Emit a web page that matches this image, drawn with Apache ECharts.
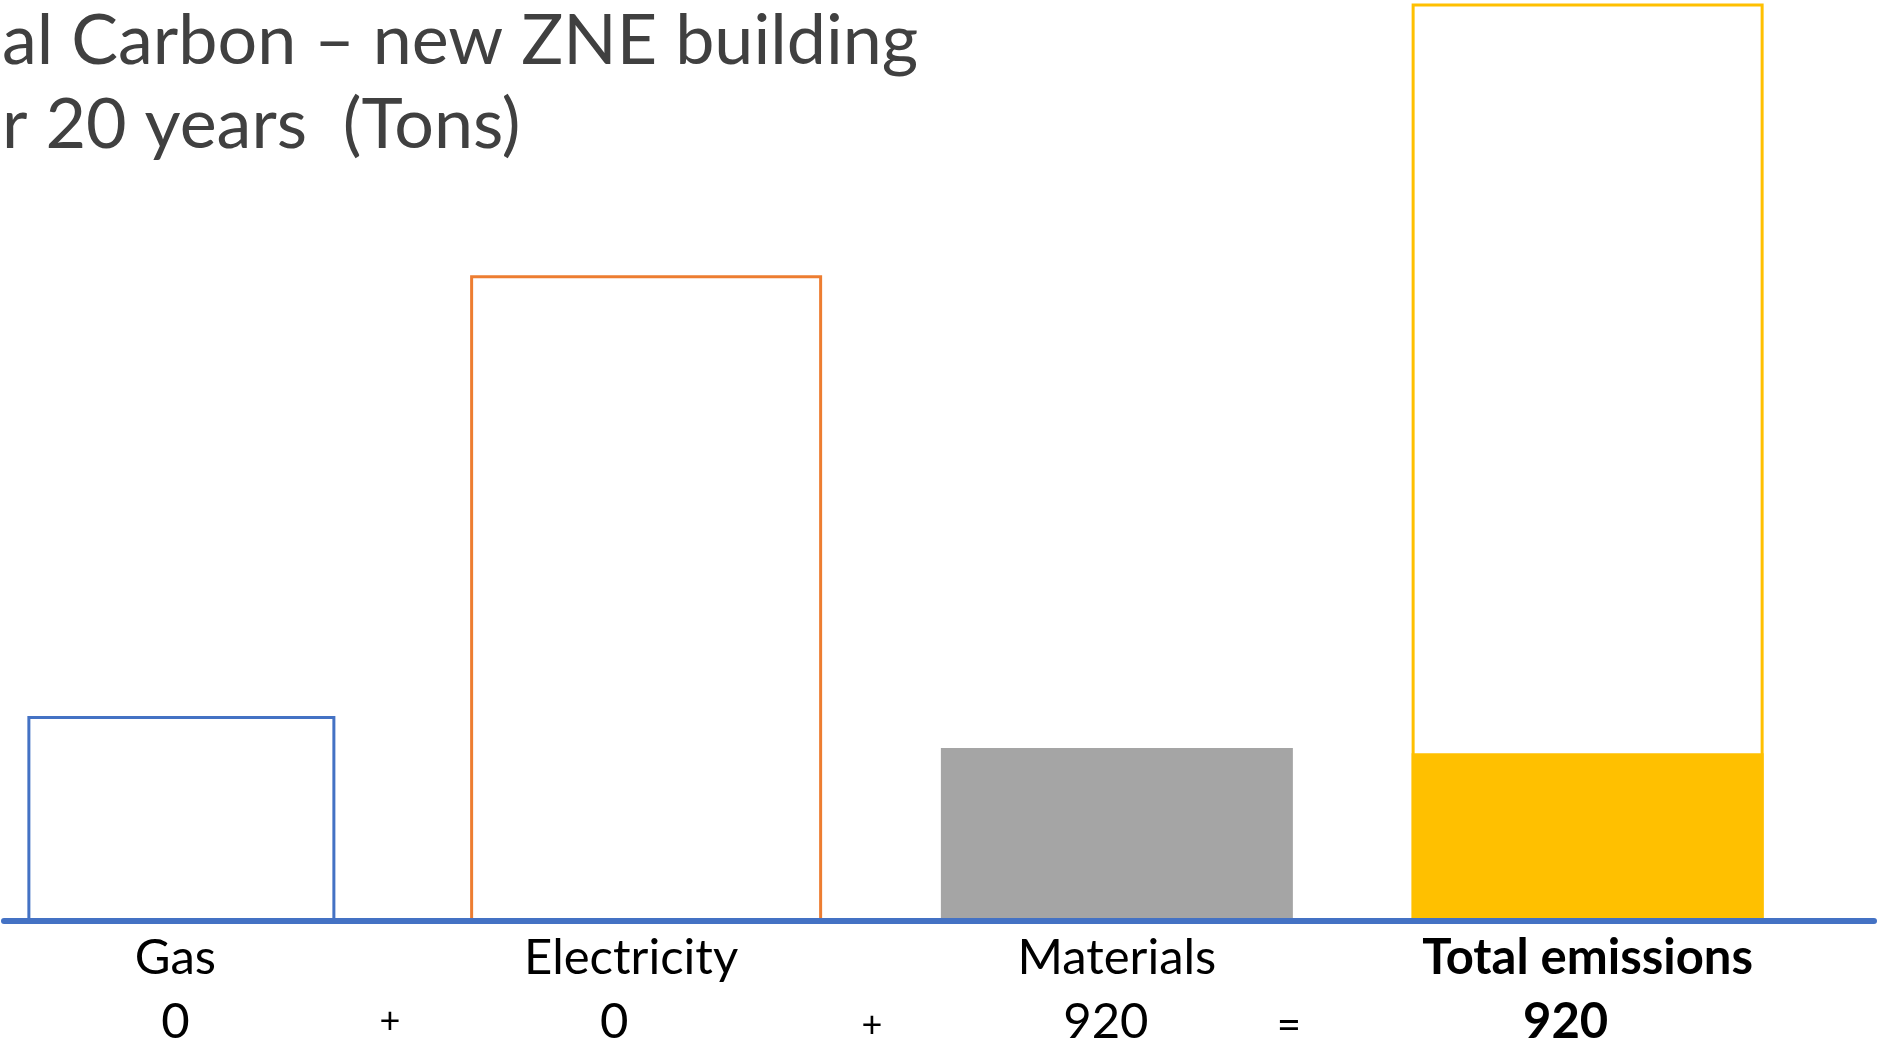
<!DOCTYPE html>
<html>
<head>
<meta charset="utf-8">
<title>Carbon – new ZNE building</title>
<script src="https://cdn.jsdelivr.net/npm/echarts@6/dist/echarts.min.js"></script>
<style>
  html, body { margin: 0; padding: 0; background: #fff; }
  #main { width: 1880px; height: 1053px; }
</style>
</head>
<body>
<div id="main"></div>
<script>
// categories + values
const categories = ['Gas', 'Electricity', 'Materials', 'Total emissions'];
// numbers written under each bar
const labelValues = [0, 0, 920, 920];
// hollow bars (reference building, tons)
const gasOutline = [1090, null, null, null];
const outlineValues = [null, 3435, null, 4882];
// filled bars (new ZNE building)
const filledValues = [0, 0, 920, 893];
// signs between the numbers
const operators = ['+', '+', '='];

const outlineColors = ['#4472C4', '#ED7D31', null, '#FFC000'];
const fillColors = ['#A5A5A5', '#A5A5A5', '#A5A5A5', '#FFC000'];
const FONT = 'Lato, "Open Sans", sans-serif';
// the text boxes on the slide aren't exactly centred under the bars
const namePad = [0, 30, 0, 0];
const valPad = [0, 64, 22, 44];

const chart = echarts.init(document.getElementById('main'));

const rich = {};
categories.forEach((c, i) => {
  const bold = i === 3 ? 'bold' : 'normal';
  rich['n' + i] = { fontFamily: FONT, fontSize: 49, lineHeight: 64, fontWeight: bold, color: '#000', padding: [0, namePad[i], 0, 0] };
  rich['v' + i] = { fontFamily: FONT, fontSize: 49, lineHeight: 64, fontWeight: bold, color: '#000', padding: [0, valPad[i], 0, 0] };
});

chart.setOption({
  animation: false,
  title: {
    text: 'al Carbon – new ZNE building\nr 20 years  (Tons)',
    left: -3,
    top: -6,
    textStyle: {
      fontFamily: FONT,
      fontSize: 70,
      fontWeight: 'normal',
      lineHeight: 84,
      color: '#404040'
    }
  },
  grid: [
    // bars (slide layout starts a bit left of the canvas)
    { left: -60, right: 57, top: 0, bottom: 132, outerBoundsMode: 'none' },
    // blue base line only
    { left: 4, right: 6, top: 0, bottom: 132, outerBoundsMode: 'none' },
    // gas box sits a touch further right on the slide
    { left: -54, right: 51, top: 0, bottom: 132, outerBoundsMode: 'none' }
  ],
  xAxis: [
    {
      type: 'category',
      gridIndex: 0,
      data: categories,
      axisLine: { show: false },
      axisTick: { show: false },
      axisLabel: {
        margin: 5,
        interval: 0,
        formatter: function (v, i) {
          return '{n' + i + '|' + v + '}\n{v' + i + '|' + labelValues[i] + '}';
        },
        rich: rich
      }
    },
    {
      type: 'value',
      gridIndex: 1,
      z: 10,
      axisLine: { show: true, onZero: false, lineStyle: { color: '#4472C4', width: 6 } },
      axisTick: { show: false },
      axisLabel: { show: false },
      splitLine: { show: false }
    },
    // same categories, only so the gas box can be narrower
    { type: 'category', gridIndex: 2, data: categories, show: false }
  ],
  yAxis: [
    { type: 'value', gridIndex: 0, min: 0, max: 4900, show: false, splitLine: { show: false } },
    { type: 'value', gridIndex: 1, show: false, splitLine: { show: false } },
    { type: 'value', gridIndex: 2, min: 0, max: 4900, show: false, splitLine: { show: false } }
  ],
  series: [
    {
      name: 'ZNE',
      type: 'bar',
      xAxisIndex: 0,
      yAxisIndex: 0,
      barWidth: 352,
      barGap: '-100%',
      data: filledValues.map((v, i) => ({ value: v, itemStyle: { color: fillColors[i] } }))
    },
    {
      name: 'Reference',
      type: 'bar',
      xAxisIndex: 0,
      yAxisIndex: 0,
      barWidth: 352,
      barGap: '-100%',
      data: outlineValues.map((v, i) => ({
        value: v,
        itemStyle: { color: 'rgba(0,0,0,0)', borderColor: outlineColors[i] || 'transparent', borderWidth: 3 }
      }))
    },
    {
      name: 'Reference gas',
      type: 'bar',
      xAxisIndex: 2,
      yAxisIndex: 2,
      barWidth: 308,
      data: gasOutline,
      itemStyle: { color: 'rgba(0,0,0,0)', borderColor: outlineColors[0], borderWidth: 3 }
    }
  ],
  graphic: [
    { type: 'text', x: 390, y: 1021, style: { text: operators[0], font: '36px ' + FONT, fill: '#000', textAlign: 'center', textVerticalAlign: 'middle' } },
    { type: 'text', x: 872, y: 1025, style: { text: operators[1], font: '36px ' + FONT, fill: '#000', textAlign: 'center', textVerticalAlign: 'middle' } },
    { type: 'text', x: 1289, y: 1025, style: { text: operators[2], font: '42px ' + FONT, fill: '#000', textAlign: 'center', textVerticalAlign: 'middle' } }
  ]
});
</script>
</body>
</html>
